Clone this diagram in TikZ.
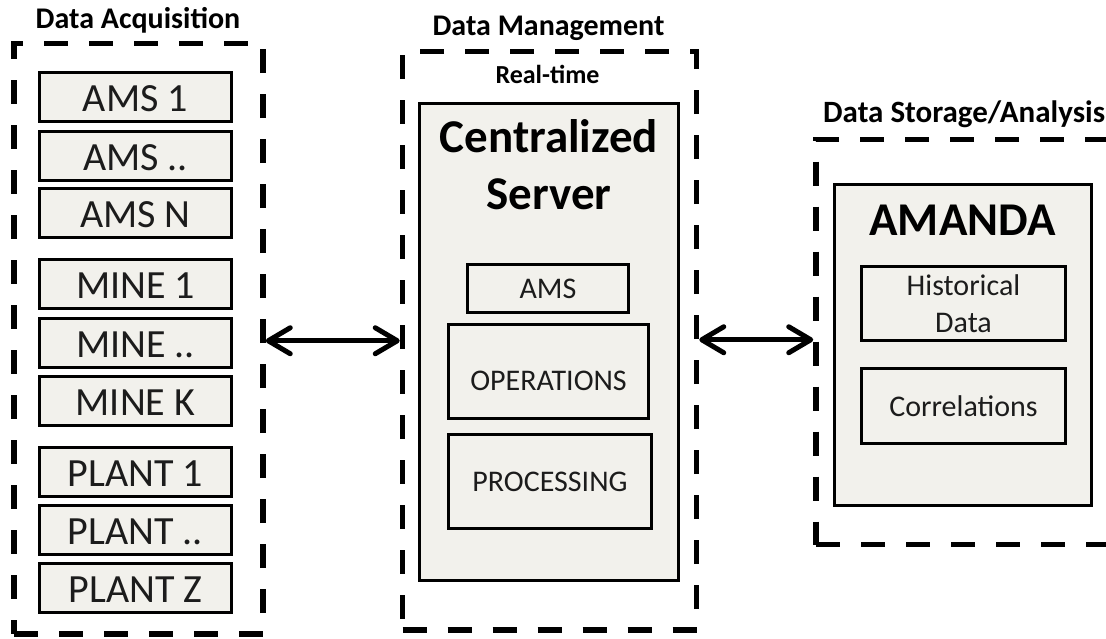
\documentclass[tikz,border=0pt]{standalone}
\usepackage{fontspec}
\setmainfont{Carlito}
\usetikzlibrary{arrows.meta}
\definecolor{boxfill}{HTML}{F2F1EC}
\definecolor{ink}{HTML}{1C1C1C}

\tikzset{
  zone/.style={draw=black, line width=5.5pt, dash pattern=on 24pt off 21pt, inner sep=0pt},
  panel/.style={draw=black, line width=3pt, fill=boxfill, inner sep=0pt},
  item/.style={panel, text=ink, font=\fontsize{40}{48}\selectfont,
    minimum width=192pt, minimum height=49pt, text height=29pt, text depth=0pt},
  subitem/.style={panel, text=ink, font=\fontsize{30}{37}\selectfont, align=center},
  heading/.style={font=\bfseries\fontsize{30}{36}\selectfont, text=black, inner sep=0pt, anchor=base},
  bigtitle/.style={font=\bfseries\fontsize{47}{57}\selectfont, text=black, inner sep=0pt, anchor=base},
  link/.style={line width=5pt, {Straight Barb[length=22pt,width=26pt,round]}-{Straight Barb[length=22pt,width=26pt,round]}}
}

\begin{document}
\begin{tikzpicture}[x=1pt,y=-1pt]
\useasboundingbox (0,0) rectangle (1106,638);
\clip (0,0) rectangle (1106,638);

% ---- acquisition column ----
\node[heading] (acqtitle) at (138,28) {Data Acquisition};
\node[zone, minimum width=249pt, minimum height=590.5pt] (acq) at (138.5,338.75) {};
\node[item] (ams1)   at (135.5,96.5)  {AMS 1};
\node[item] (amsx)   at (135.5,155.5) {AMS ..};
\node[item] (amsn)   at (135.5,212.5) {AMS N};
\node[item] (mine1)  at (135.5,284)   {MINE 1};
\node[item] (minex)  at (135.5,342.5) {MINE ..};
\node[item] (minek)  at (135.5,400.5) {MINE K};
\node[item] (plant1) at (135.5,472)   {PLANT 1};
\node[item] (plantx) at (135.5,530)   {PLANT ..};
\node[item] (plantz) at (135.5,587.5) {PLANT Z};

% ---- management column ----
\node[heading] (mgmttitle) at (548.5,35) {Data Management};
\node[zone, minimum width=294pt, minimum height=578.5pt] (mgmt) at (549.5,340.75) {};
\node[heading, font=\bfseries\fontsize{26}{30}\selectfont] (realtime) at (547.5,83) {Real-time};
\node[panel, minimum width=259pt, minimum height=477pt] (server) at (549,342) {};
\node[bigtitle] (servera) at (549,152) {Centralized};
\node[bigtitle] (serverb) at (549,209) {Server};
\node[subitem, minimum width=161pt, minimum height=48pt] (amsmod) at (548,288.5) {AMS};
\node[subitem, minimum width=200pt, minimum height=94pt, text height=37pt, text depth=0pt] (oper) at (548.5,371.5) {OPERATIONS};
\node[subitem, minimum width=203pt, minimum height=94pt] (proc) at (550,481.5) {PROCESSING};

% ---- storage / analysis column ----
\node[heading, anchor=base west, font=\bfseries\fontsize{31}{36}\selectfont] (stortitle) at (823,122) {Data Storage/Analysis};
\node[zone, minimum width=304pt, minimum height=405pt] (stor) at (968,342) {};
\node[panel, minimum width=257pt, minimum height=321pt] (amanda) at (963,345) {};
\node[bigtitle] (amandatitle) at (962.5,235) {AMANDA};
\node[subitem, minimum width=204pt, minimum height=74pt] (hist) at (963.5,303.5) {Historical\\Data};
\node[subitem, minimum width=204pt, minimum height=75pt] (corr) at (963.5,406) {Correlations};

% ---- links between the stages ----
\draw[link] (acq.east |- mgmt.west) -- (mgmt.west);
\draw[link] ([yshift=1pt]mgmt.east) -- ([yshift=1pt]mgmt.east -| stor.west);
\end{tikzpicture}
\end{document}
